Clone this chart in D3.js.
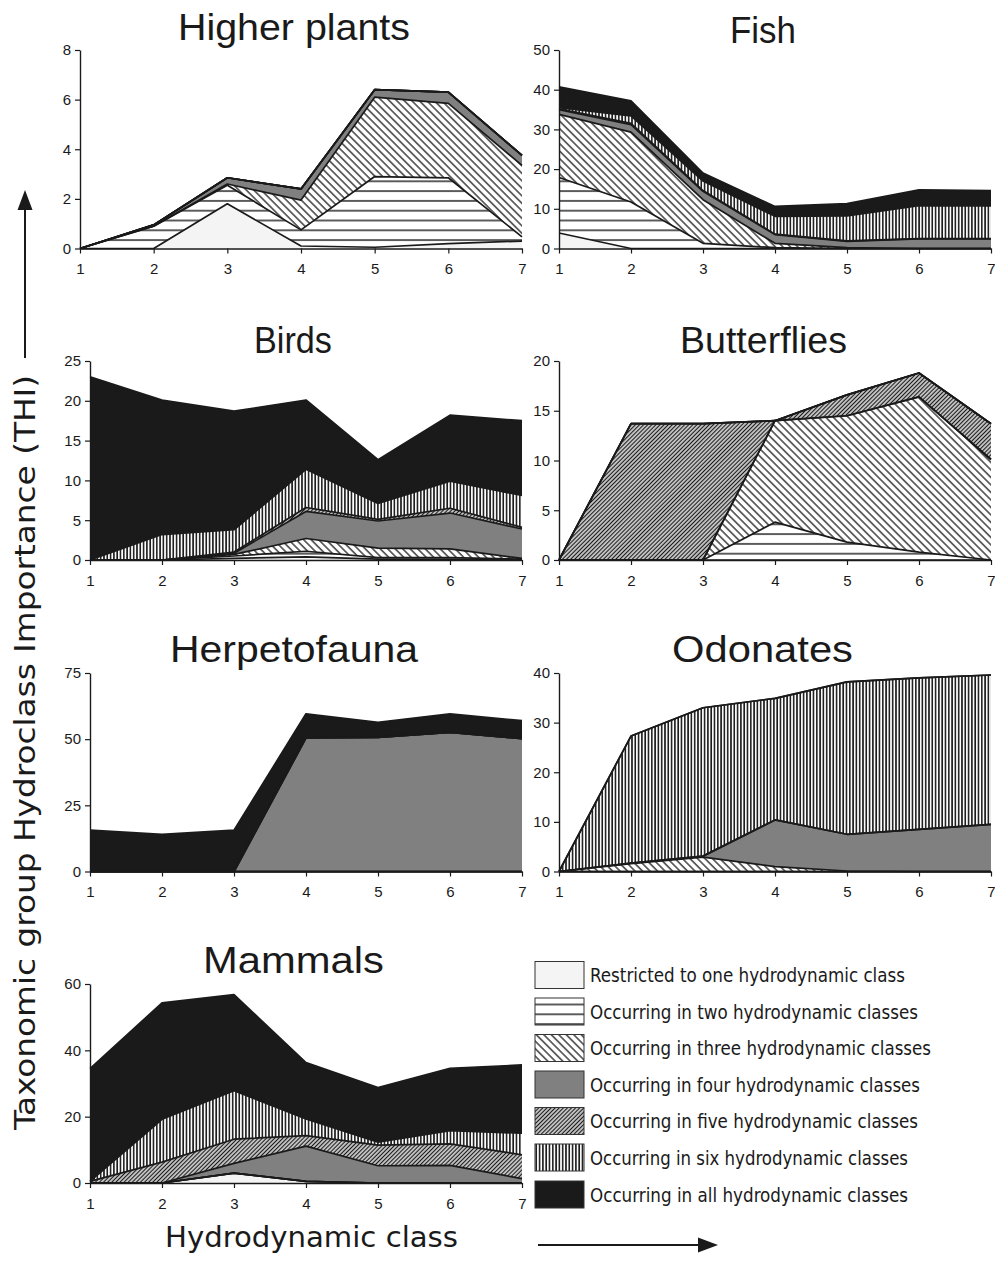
<!DOCTYPE html>
<html>
<head>
<meta charset="utf-8">
<script src="https://cdn.jsdelivr.net/npm/d3@7/dist/d3.min.js"></script>
<style>
  html, body { margin: 0; padding: 0; background: #ffffff; }
  svg { display: block; }
</style>
</head>
<body>
<svg id="chart" width="995" height="1262"></svg>
<script>
// Hydrodynamic classes along the x axis
const hydroClasses = [1, 2, 3, 4, 5, 6, 7];

// Legend / layer names, from narrowest to widest occurrence
const layerNames = [
  "Restricted to one hydrodynamic class",
  "Occurring in two hydrodynamic classes",
  "Occurring in three hydrodynamic classes",
  "Occurring in four hydrodynamic classes",
  "Occurring in five hydrodynamic classes",
  "Occurring in six hydrodynamic classes",
  "Occurring in all hydrodynamic classes"
];

// THI contribution of each layer (rows: one .. all) per hydrodynamic class 1..7
const higherPlants = [
  [0, 0, 1.8, 0.1, 0.05, 0.2, 0.3],
  [0, 0.9, 0.75, 0.65, 2.85, 2.65, 0.17],
  [0, 0, 0.05, 1.2, 3.2, 3.0, 2.88],
  [0, 0.05, 0.25, 0.45, 0.3, 0.45, 0.4],
  [0, 0, 0, 0, 0, 0, 0],
  [0, 0, 0, 0, 0, 0, 0],
  [0, 0, 0, 0, 0, 0, 0]
];
const fish = [
  [3.9, 0, 0, 0, 0, 0, 0],
  [14.0, 11.7, 1.3, 0.2, 0, 0, 0],
  [15.9, 17.6, 11.0, 1.1, 0.2, 0, 0],
  [1.2, 1.9, 2.1, 2.2, 1.6, 2.4, 2.4],
  [0.2, 0.3, 0.2, 0.1, 0.1, 0.1, 0.1],
  [0.3, 1.9, 2.4, 4.5, 6.3, 8.3, 8.2],
  [5.2, 3.8, 2.0, 2.5, 3.1, 4.0, 3.9]
];
const birds = [
  [0, 0, 0.2, 0.4, 0.1, 0.1, 0],
  [0, 0, 0.3, 0.7, 0.2, 0.2, 0.1],
  [0, 0, 0.2, 1.6, 1.2, 1.1, 0.1],
  [0, 0, 0.15, 3.4, 3.4, 4.5, 3.7],
  [0, 0, 0.15, 0.5, 0.2, 0.6, 0.2],
  [0, 3.2, 2.8, 4.8, 2.0, 3.4, 4.0],
  [23, 16.9, 14.9, 8.7, 5.5, 8.3, 9.4]
];
const butterflies = [
  [0, 0, 0, 0, 0, 0, 0],
  [0, 0, 0, 3.8, 1.8, 0.8, 0],
  [0, 0, 0, 10.2, 12.7, 15.6, 10.1],
  [0, 0, 0, 0, 0, 0, 0],
  [0, 13.7, 13.7, 0, 2.1, 2.4, 3.6],
  [0, 0, 0, 0, 0, 0, 0],
  [0, 0, 0, 0, 0, 0, 0]
];
const herpetofauna = [
  [0, 0, 0, 0, 0, 0, 0],
  [0, 0, 0, 0, 0, 0, 0],
  [0, 0, 0, 0, 0, 0, 0],
  [0, 0, 0, 50.5, 50.7, 52.6, 50.2],
  [0, 0, 0, 0, 0, 0, 0],
  [0, 0, 0, 0, 0, 0, 0],
  [15.6, 14.0, 15.6, 9.1, 5.7, 7.0, 6.8]
];
const odonates = [
  [0, 0, 0, 0, 0, 0, 0],
  [0, 0, 0, 0, 0, 0, 0],
  [0, 1.6, 2.9, 1.0, 0.1, 0, 0],
  [0, 0.1, 0.2, 9.4, 7.4, 8.5, 9.5],
  [0, 0, 0, 0, 0, 0, 0],
  [0, 25.6, 29.9, 24.5, 30.7, 30.5, 30.1],
  [0, 0, 0, 0, 0, 0, 0]
];
const mammals = [
  [0, 0, 3.0, 0.5, 0, 0, 0],
  [0, 0, 0, 0, 0, 0, 0],
  [0, 0, 0, 0, 0, 0, 0],
  [0, 0, 2.9, 10.6, 5.2, 5.3, 1.3],
  [0.5, 6.3, 7.3, 3.2, 6.2, 6.5, 7.2],
  [0, 12.9, 14.6, 5.0, 0.9, 4.0, 6.5],
  [34, 35.1, 29.0, 17.0, 16.5, 18.8, 20.6]
];

// Panel titles and y-axis tick values
const panelTitles = ["Higher plants", "Fish", "Birds", "Butterflies", "Herpetofauna", "Odonates", "Mammals"];
const panelData = [higherPlants, fish, birds, butterflies, herpetofauna, odonates, mammals];
const yTicksPlants = [0, 2, 4, 6, 8];
const yTicksFish = [0, 10, 20, 30, 40, 50];
const yTicksBirds = [0, 5, 10, 15, 20, 25];
const yTicksButterflies = [0, 5, 10, 15, 20];
const yTicksHerps = [0, 25, 50, 75];
const yTicksOdonates = [0, 10, 20, 30, 40];
const yTicksMammals = [0, 20, 40, 60];
const panelTicks = [yTicksPlants, yTicksFish, yTicksBirds, yTicksButterflies, yTicksHerps, yTicksOdonates, yTicksMammals];

// Plot frames: left, right, top, bottom of each plotting area; title placement
const frames = [
  { x0: 80,  x1: 522, y0: 50,  y1: 248.5, tx: 178, tw: 232, ty: 40 },
  { x0: 559, x1: 991, y0: 50,  y1: 248.5, tx: 730, tw: 66,  ty: 43 },
  { x0: 90,  x1: 522, y0: 361, y1: 560,   tx: 254, tw: 78,  ty: 353 },
  { x0: 559, x1: 991, y0: 361, y1: 560,   tx: 680, tw: 167, ty: 353 },
  { x0: 90,  x1: 522, y0: 673, y1: 871.5, tx: 170, tw: 248, ty: 662 },
  { x0: 559, x1: 991, y0: 673, y1: 871.5, tx: 672, tw: 181, ty: 662 },
  { x0: 90,  x1: 522, y0: 984, y1: 1183,  tx: 203, tw: 181, ty: 973 }
];

const ink = "#1a1a1a";
const svg = d3.select("#chart");
const defs = svg.append("defs");

// Fill patterns for the seven occurrence layers
function hatch(id, size, angle, draw) {
  const p = defs.append("pattern")
    .attr("id", id)
    .attr("patternUnits", "userSpaceOnUse")
    .attr("width", size[0]).attr("height", size[1]);
  if (angle) p.attr("patternTransform", `rotate(${angle})`);
  p.append("rect").attr("width", size[0]).attr("height", size[1]).attr("fill", "#ffffff");
  draw(p);
}
hatch("p-two", [10, 9.8], 0, p => p.append("rect").attr("x", 0).attr("y", 4.2).attr("width", 10).attr("height", 1.4).attr("fill", ink));
hatch("p-three", [10, 5.3], 45, p => p.append("rect").attr("x", 0).attr("y", 2).attr("width", 10).attr("height", 1.25).attr("fill", ink));
hatch("p-five", [10, 2.9], -45, p => p.append("rect").attr("x", 0).attr("y", 0.7).attr("width", 10).attr("height", 1.5).attr("fill", ink));
hatch("p-six", [3.3, 10], 0, p => p.append("rect").attr("x", 0.9).attr("y", 0).attr("width", 1.6).attr("height", 10).attr("fill", ink));

const layerFills = ["#f4f4f4", "url(#p-two)", "url(#p-three)", "#808080", "url(#p-five)", "url(#p-six)", ink];

const stack = d3.stack().keys(d3.range(7));
const intFormat = d3.format("d");

panelData.forEach((layers, pi) => {
  const f = frames[pi];
  const ticks = panelTicks[pi];
  const x = d3.scaleLinear().domain([1, 7]).range([f.x0, f.x1]);
  const y = d3.scaleLinear().domain([0, d3.max(ticks)]).range([f.y1, f.y0]);

  const rows = hydroClasses.map((c, i) => {
    const r = { cls: c };
    layers.forEach((vals, li) => { r[li] = vals[i]; });
    return r;
  });
  const series = stack(rows);

  const g = svg.append("g");
  const area = d3.area().x(d => x(d.data.cls)).y0(d => y(d[0])).y1(d => y(d[1]));
  const top = d3.line().x(d => x(d.data.cls)).y(d => y(d[1]));

  g.selectAll("path.layer").data(series).join("path")
    .attr("class", "layer")
    .attr("d", area)
    .attr("fill", (d, i) => layerFills[i])
    .attr("stroke", "none");

  g.selectAll("path.edge").data(series).join("path")
    .attr("class", "edge")
    .attr("d", top)
    .attr("fill", "none")
    .attr("stroke", ink)
    .attr("stroke-width", 1.7)
    .attr("stroke-linejoin", "round");

  // Axes
  const xAxis = d3.axisBottom(x).tickValues(hydroClasses).tickFormat(intFormat)
    .tickSize(5).tickSizeOuter(0).tickPadding(10);
  const yAxis = d3.axisLeft(y).tickValues(ticks).tickFormat(intFormat)
    .tickSize(5).tickSizeOuter(0).tickPadding(4);

  const gx = svg.append("g").attr("transform", `translate(0,${f.y1})`).call(xAxis);
  const gy = svg.append("g").attr("transform", `translate(${f.x0},0)`).call(yAxis);
  [gx, gy].forEach(a => {
    a.select(".domain").attr("stroke", ink).attr("stroke-width", 1.4);
    a.selectAll(".tick line").attr("stroke", ink).attr("stroke-width", 1.2);
    a.selectAll(".tick text")
      .attr("fill", ink)
      .style("font-family", "'Liberation Sans', Arial, sans-serif")
      .style("font-size", "15px");
  });

  // Panel title
  svg.append("text")
    .attr("x", f.tx).attr("y", f.ty)
    .attr("textLength", f.tw).attr("lengthAdjust", "spacingAndGlyphs")
    .style("font-family", "'Liberation Sans', Arial, sans-serif")
    .style("font-size", "37px")
    .attr("fill", ink)
    .text(panelTitles[pi]);
});

// Legend
const legendBoxX = 535, legendBoxW = 49, legendBoxH = 27;
const legendRowTop = [961.5, 998, 1034.5, 1071, 1107.5, 1144, 1181];
const legendTextW = [315, 328, 341, 330, 328, 318, 318];
const legend = svg.append("g");
layerNames.forEach((name, i) => {
  legend.append("rect")
    .attr("x", legendBoxX).attr("y", legendRowTop[i])
    .attr("width", legendBoxW).attr("height", legendBoxH)
    .attr("fill", layerFills[i])
    .attr("stroke", "#333333").attr("stroke-width", 1);
  legend.append("text")
    .attr("x", 590).attr("y", legendRowTop[i] + legendBoxH / 2 + 7)
    .attr("textLength", legendTextW[i]).attr("lengthAdjust", "spacingAndGlyphs")
    .style("font-family", "'DejaVu Sans Condensed', 'DejaVu Sans', sans-serif")
    .style("font-size", "19.5px")
    .attr("fill", ink)
    .text(name);
});

// Axis captions with direction arrows
const labelFont = "'DejaVu Sans Condensed', 'DejaVu Sans', sans-serif";
svg.append("text")
  .attr("x", 165).attr("y", 1247)
  .attr("textLength", 293).attr("lengthAdjust", "spacingAndGlyphs")
  .style("font-family", labelFont).style("font-size", "28px")
  .attr("fill", ink)
  .text("Hydrodynamic class");

svg.append("text")
  .attr("transform", "translate(35,1130) rotate(-90)")
  .attr("x", 0).attr("y", 0)
  .attr("textLength", 755).attr("lengthAdjust", "spacingAndGlyphs")
  .style("font-family", labelFont).style("font-size", "28px")
  .attr("fill", ink)
  .text("Taxonomic group Hydroclass Importance (THI)");

// Arrows
svg.append("line").attr("x1", 538).attr("x2", 700).attr("y1", 1245).attr("y2", 1245)
  .attr("stroke", ink).attr("stroke-width", 2);
svg.append("path").attr("d", "M718,1245 L698,1237.5 L698,1252.5 Z").attr("fill", ink);

svg.append("line").attr("x1", 25).attr("x2", 25).attr("y1", 358).attr("y2", 208)
  .attr("stroke", ink).attr("stroke-width", 2);
svg.append("path").attr("d", "M25,190 L17.5,210 L32.5,210 Z").attr("fill", ink);
</script>
</body>
</html>
